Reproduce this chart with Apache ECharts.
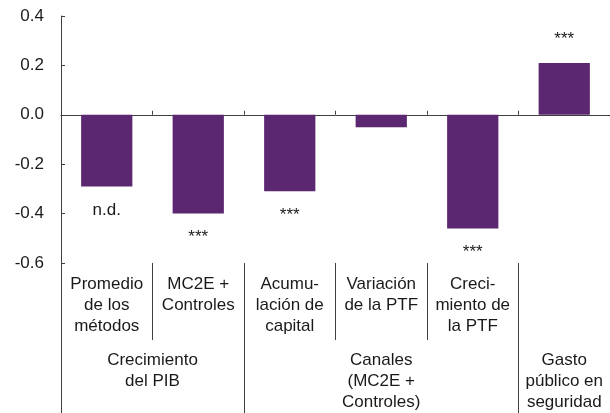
<!DOCTYPE html>
<html>
<head>
<meta charset="utf-8">
<script src="https://cdn.jsdelivr.net/npm/echarts@6/dist/echarts.min.js"></script>
<style>
  html, body { margin: 0; padding: 0; background: #fff; }
  #main { width: 610px; height: 413px; }
</style>
</head>
<body>
<div id="main"></div>
<script>
// categorias (primer nivel)
var categories = ['Promedio\nde los\nmétodos', 'MC2E +\nControles', 'Acumu-\nlación de\ncapital', 'Variación\nde la PTF', 'Creci-\nmiento de\nla PTF', ''];
// valores de las barras
var values = [-0.29, -0.40, -0.31, -0.05, -0.46, 0.21];
// significancia
var sigLabels = ['n.d.', '***', '***', '', '***', '***'];
// grupos (segundo nivel)
var groupNames = ['Crecimiento\ndel PIB', 'Canales\n(MC2E +\nControles)', 'Gasto\npúblico en\nseguridad'];
var groupCenters = [1, 3.5, 5.5];
var groupBounds = [0, 2, 5, 6];
// eje y
var yMin = -0.6, yMax = 0.4, yStep = 0.2;

var font = 'Liberation Sans';
var axisColor = '#404040';
var textColor = '#1a1a1a';

var chart = echarts.init(document.getElementById('main'));

chart.setOption({
  animation: false,
  textStyle: { fontFamily: font },
  grid: { left: 61, right: -2, top: 16, bottom: 150, containLabel: false },
  yAxis: {
    type: 'value',
    min: yMin, max: yMax, interval: yStep,
    axisLine: { show: true, lineStyle: { color: axisColor, width: 1 } },
    axisTick: { show: true, inside: true, length: 4, lineStyle: { color: axisColor } },
    splitLine: { show: false },
    axisLabel: {
      margin: 17, fontSize: 17, color: textColor, fontFamily: font,
      formatter: function (v) { return v.toFixed(1); }
    }
  },
  xAxis: [
    {
      // eje en cero
      type: 'category',
      data: categories,
      position: 'bottom',
      axisLine: { onZero: true, lineStyle: { color: axisColor, width: 1 } },
      axisTick: { show: true, inside: true, length: 4, lineStyle: { color: axisColor } },
      axisLabel: { show: false }
    },
    {
      // etiquetas de primer nivel
      type: 'category',
      data: categories,
      position: 'bottom',
      axisLine: { show: false, onZero: false },
      axisTick: { show: true, length: 77, lineStyle: { color: axisColor } },
      axisLabel: {
        margin: 11, fontSize: 17, lineHeight: 21, color: textColor, fontFamily: font,
        interval: 0, align: 'center'
      }
    },
    {
      // etiquetas de grupo
      type: 'value',
      min: 0, max: 6,
      position: 'bottom',
      splitLine: { show: false },
      axisLine: { show: false, onZero: false },
      axisTick: { show: true, length: 150, customValues: groupBounds, lineStyle: { color: axisColor } },
      axisLabel: {
        margin: 87, fontSize: 17, lineHeight: 21, color: textColor, fontFamily: font,
        customValues: groupCenters,
        formatter: function (v) { return groupNames[groupCenters.indexOf(v)]; }
      }
    }
  ],
  series: [{
    type: 'bar',
    xAxisIndex: 0,
    barWidth: '56%',
    itemStyle: { color: '#5b2771' },
    label: {
      show: true,
      distance: 15,
      fontSize: 17,
      color: textColor,
      fontFamily: font,
      formatter: function (p) { return sigLabels[p.dataIndex]; }
    },
    data: values.map(function (v) {
      return { value: v, label: { position: v < 0 ? 'bottom' : 'top' } };
    })
  }]
});
</script>
</body>
</html>
